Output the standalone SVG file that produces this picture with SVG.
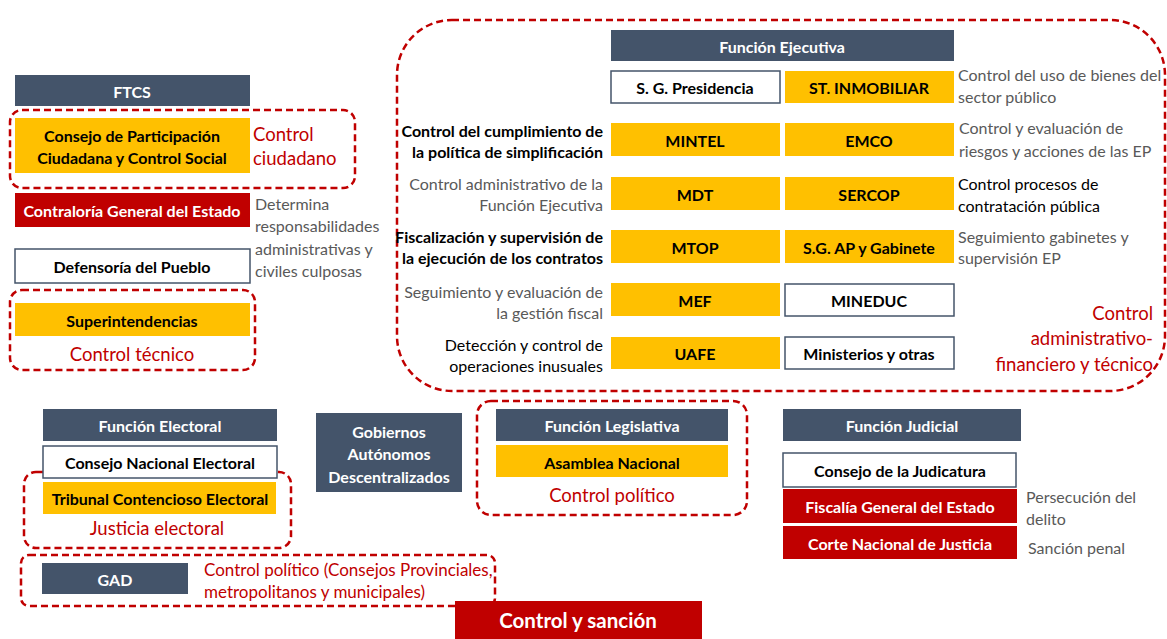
<svg xmlns="http://www.w3.org/2000/svg" width="1167" height="639" viewBox="0 0 1167 639">
<style>
.bg{fill:#ffffff}
.dark{fill:#44546a}
.yel{fill:#ffc000}
.red{fill:#c00000}
.wht{fill:#ffffff;stroke:#44546a;stroke-width:1.5}
.dash{fill:none;stroke:#c00000;stroke-width:2.5;stroke-dasharray:7 4}
text{font-family:Lato,"Liberation Sans",sans-serif;dominant-baseline:central}
.hd{fill:#ffffff;font-weight:bold;font-size:16px;text-anchor:middle}
.bx{fill:#000000;font-weight:bold;font-size:16px;text-anchor:middle}
.bw{fill:#ffffff;font-weight:bold;font-size:16px;text-anchor:middle}
.g{fill:#595959;font-size:16px}
.k{fill:#000000;font-size:16px}
.kb{fill:#000000;font-size:16px;font-weight:bold}
.rt{fill:#c00000;font-size:18.5px}
.r{text-anchor:end}
.m{text-anchor:middle}
</style>
<rect class="bg" x="0" y="0" width="1167" height="639"/>

<g id="connectors">
  <rect class="dash" x="10" y="110" width="345" height="78" rx="12"/>
  <rect class="dash" x="10" y="290" width="245" height="80" rx="12"/>
  <rect class="dash" x="397" y="20" width="768" height="371" rx="55"/>
  <rect class="dash" x="24" y="472" width="267" height="76" rx="12"/>
  <rect class="dash" x="21" y="555" width="474" height="51" rx="8"/>
  <rect class="dash" x="477" y="401" width="270" height="114" rx="14"/>
</g>

<g id="ftcs">
  <rect class="dark" x="15" y="75" width="235" height="31"/>
  <text class="hd" x="132" y="91">FTCS</text>
</g>
<g id="cpccs">
  <rect class="yel" x="15" y="118" width="235" height="55"/>
  <text class="bx" x="132" y="135">Consejo de Participación</text>
  <text class="bx" x="132" y="157">Ciudadana y Control Social</text>
</g>
<g id="control-ciudadano">
  <text class="rt" x="253" y="134">Control</text>
  <text class="rt" x="253" y="158">ciudadano</text>
</g>
<g id="contraloria">
  <rect class="red" x="15" y="193" width="235" height="34"/>
  <text class="bw" x="132" y="210">Contraloría General del Estado</text>
</g>
<g id="determina">
  <text class="g" x="255" y="203">Determina</text>
  <text class="g" x="255" y="225">responsabilidades</text>
  <text class="g" x="255" y="248">administrativas y</text>
  <text class="g" x="255" y="270">civiles culposas</text>
</g>
<g id="defensoria">
  <rect class="wht" x="15" y="249" width="235" height="34"/>
  <text class="bx" x="132" y="266">Defensoría del Pueblo</text>
</g>
<g id="superintendencias">
  <rect class="yel" x="15" y="303" width="235" height="33"/>
  <text class="bx" x="132" y="320">Superintendencias</text>
  <text class="rt m" x="132" y="354">Control técnico</text>
</g>

<g id="funcion-ejecutiva">
  <rect class="dark" x="611" y="30" width="343" height="31"/>
  <text class="hd" x="782" y="46">Función Ejecutiva</text>
</g>
<g id="sg-presidencia">
  <rect class="wht" x="611" y="71" width="169" height="32"/>
  <text class="bx" x="695" y="87">S. G. Presidencia</text>
</g>
<g id="st-inmobiliar">
  <rect class="yel" x="785" y="71" width="169" height="32"/>
  <text class="bx" x="869" y="87">ST. INMOBILIAR</text>
</g>
<g id="mintel">
  <rect class="yel" x="611" y="123" width="169" height="33"/>
  <text class="bx" x="695" y="140">MINTEL</text>
</g>
<g id="emco">
  <rect class="yel" x="785" y="123" width="169" height="33"/>
  <text class="bx" x="869" y="140">EMCO</text>
</g>
<g id="mdt">
  <rect class="yel" x="611" y="177" width="169" height="33"/>
  <text class="bx" x="695" y="194">MDT</text>
</g>
<g id="sercop">
  <rect class="yel" x="785" y="177" width="169" height="33"/>
  <text class="bx" x="869" y="194">SERCOP</text>
</g>
<g id="mtop">
  <rect class="yel" x="611" y="230" width="169" height="33"/>
  <text class="bx" x="695" y="247">MTOP</text>
</g>
<g id="sg-ap">
  <rect class="yel" x="785" y="230" width="169" height="33"/>
  <text class="bx" x="869" y="247">S.G. AP y Gabinete</text>
</g>
<g id="mef">
  <rect class="yel" x="611" y="283" width="169" height="33"/>
  <text class="bx" x="695" y="300">MEF</text>
</g>
<g id="mineduc">
  <rect class="wht" x="785" y="284" width="169" height="32"/>
  <text class="bx" x="869" y="300">MINEDUC</text>
</g>
<g id="uafe">
  <rect class="yel" x="611" y="337" width="169" height="32"/>
  <text class="bx" x="695" y="353">UAFE</text>
</g>
<g id="ministerios">
  <rect class="wht" x="785" y="337" width="169" height="32"/>
  <text class="bx" x="869" y="353">Ministerios y otras</text>
</g>

<g id="left-labels">
  <text class="kb r" x="603" y="130">Control del cumplimiento de</text>
  <text class="kb r" x="603" y="151">la política de simplificación</text>
  <text class="g r" x="603" y="183">Control administrativo de la</text>
  <text class="g r" x="603" y="204">Función Ejecutiva</text>
  <text class="kb r" x="603" y="236">Fiscalización y supervisión de</text>
  <text class="kb r" x="603" y="257">la ejecución de los contratos</text>
  <text class="g r" x="603" y="291">Seguimiento y evaluación de</text>
  <text class="g r" x="603" y="312">la gestión fiscal</text>
  <text class="k r" x="603" y="344">Detección y control de</text>
  <text class="k r" x="603" y="365">operaciones inusuales</text>
</g>
<g id="right-labels">
  <text class="g" x="958" y="74">Control del uso de bienes del</text>
  <text class="g" x="958" y="96">sector público</text>
  <text class="g" x="959" y="127">Control y evaluación de</text>
  <text class="g" x="959" y="150">riesgos y acciones de las EP</text>
  <text class="k" x="958" y="183">Control procesos de</text>
  <text class="k" x="958" y="205">contratación pública</text>
  <text class="g" x="958" y="236">Seguimiento gabinetes y</text>
  <text class="g" x="958" y="257">supervisión EP</text>
</g>
<g id="control-admin">
  <text class="rt r" x="1153" y="313">Control</text>
  <text class="rt r" x="1153" y="338">administrativo-</text>
  <text class="rt r" x="1153" y="364">financiero y técnico</text>
</g>

<g id="funcion-electoral">
  <rect class="dark" x="43" y="409" width="234" height="32"/>
  <text class="hd" x="160" y="425">Función Electoral</text>
</g>
<g id="cne">
  <rect class="wht" x="43" y="446" width="234" height="32"/>
  <text class="bx" x="160" y="462">Consejo Nacional Electoral</text>
</g>
<g id="tce">
  <rect class="yel" x="43" y="482" width="233" height="32"/>
  <text class="bx" x="160" y="498">Tribunal Contencioso Electoral</text>
  <text class="rt m" x="157" y="528">Justicia electoral</text>
</g>
<g id="gobiernos">
  <rect class="dark" x="316" y="413" width="146" height="79"/>
  <text class="hd" x="389" y="431">Gobiernos</text>
  <text class="hd" x="389" y="453">Autónomos</text>
  <text class="hd" x="389" y="476">Descentralizados</text>
</g>
<g id="gad">
  <rect class="dark" x="42" y="563" width="146" height="31"/>
  <text class="hd" x="115" y="579">GAD</text>
  <text class="rt" x="204" y="569" style="font-size:17px">Control político (Consejos Provinciales,</text>
  <text class="rt" x="204" y="591" style="font-size:17px">metropolitanos y municipales)</text>
</g>
<g id="control-sancion">
  <rect class="red" x="455" y="601" width="247" height="40"/>
  <text class="bw" x="578" y="620" style="font-size:20.5px">Control y sanción</text>
</g>
<g id="funcion-legislativa">
  <rect class="dark" x="496" y="409" width="232" height="32"/>
  <text class="hd" x="612" y="425">Función Legislativa</text>
</g>
<g id="asamblea">
  <rect class="yel" x="496" y="445" width="232" height="32"/>
  <text class="bx" x="612" y="462">Asamblea Nacional</text>
  <text class="rt m" x="612" y="495">Control político</text>
</g>
<g id="funcion-judicial">
  <rect class="dark" x="783" y="409" width="238" height="32"/>
  <text class="hd" x="902" y="425">Función Judicial</text>
</g>
<g id="judicatura">
  <rect class="wht" x="783" y="453" width="233" height="34"/>
  <text class="bx" x="900" y="470">Consejo de la Judicatura</text>
</g>
<g id="fiscalia">
  <rect class="red" x="783" y="489" width="234" height="34"/>
  <text class="bw" x="900" y="506">Fiscalía General del Estado</text>
</g>
<g id="corte">
  <rect class="red" x="783" y="526" width="234" height="33"/>
  <text class="bw" x="900" y="543">Corte Nacional de Justicia</text>
</g>
<g id="judicial-labels">
  <text class="g" x="1026" y="496">Persecución del</text>
  <text class="g" x="1026" y="518">delito</text>
  <text class="g" x="1028" y="547">Sanción penal</text>
</g>
</svg>
